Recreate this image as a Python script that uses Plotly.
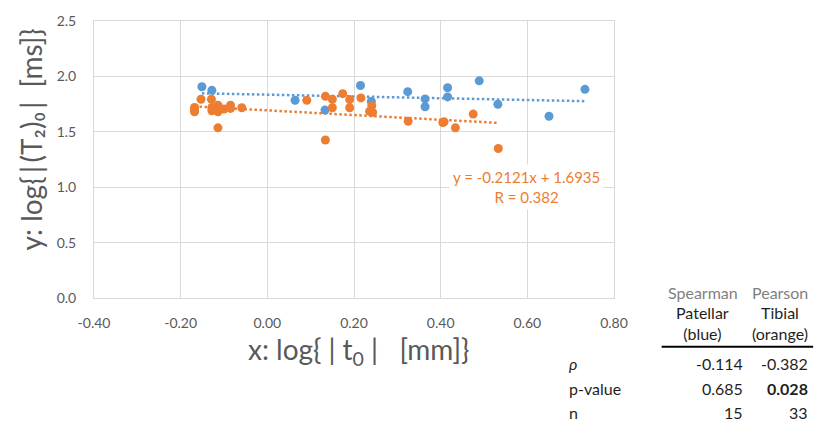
import plotly.graph_objects as go

# Patellar tendon measurements (blue)
patellar_x = [-0.151, -0.128, 0.064, 0.133, 0.215, 0.240, 0.324, 0.364, 0.364,
              0.416, 0.416, 0.489, 0.532, 0.650, 0.733]
patellar_y = [1.907, 1.874, 1.785, 1.696, 1.918, 1.773, 1.862, 1.797, 1.726,
              1.898, 1.815, 1.960, 1.749, 1.640, 1.883]

# Tibial measurements (orange)
tibial_x = [-0.153, -0.129, -0.168, -0.168, -0.128, -0.114, -0.114, -0.122, -0.085,
            -0.085, -0.059, -0.114, 0.091, 0.134, 0.150, 0.150, 0.174, 0.190,
            0.190, 0.216, 0.236, 0.241, 0.243, 0.134, 0.325, 0.405, 0.434,
            0.475, 0.533, -0.168, -0.128, -0.100, 0.408]
tibial_y = [1.794, 1.794, 1.720, 1.681, 1.690, 1.740, 1.681, 1.711, 1.740,
            1.711, 1.717, 1.536, 1.785, 1.820, 1.794, 1.717, 1.844, 1.791,
            1.717, 1.806, 1.684, 1.735, 1.675, 1.426, 1.595, 1.584, 1.536,
            1.660, 1.349, 1.700, 1.720, 1.705, 1.590]

# Linear trend lines (slope, intercept)
patellar_fit = (-0.080, 1.835)
tibial_fit = (-0.2121, 1.6935)
tibial_r = 0.382

# Axis ticks
x_tick_vals = [-0.4, -0.2, 0.0, 0.2, 0.4, 0.6, 0.8]
x_tick_text = ["-0.40", "-0.20", "0.00", "0.20", "0.40", "0.60", "0.80"]
y_tick_vals = [0.0, 0.5, 1.0, 1.5, 2.0, 2.5]
y_tick_text = ["0.0", "0.5", "1.0", "1.5", "2.0", "2.5"]

# Correlation summary table
table_methods = ["Spearman", "Pearson"]
table_groups = ["Patellar<br>(blue)", "Tibial<br>(orange)"]
row_labels = ["<i>ρ</i>", "p-value", "n"]
rho_values = ["-0.114", "-0.382"]
p_values = ["0.685", "<b>0.028</b>"]
n_values = ["15", "33"]

BLUE = "#5B9BD5"
ORANGE = "#ED7D31"
GRID = "#D9D9D9"
TICK = "#595959"
FONT = "Lato"
SP = "\u2005"   # narrow space around the absolute-value bars
TSP = "\u2009"  # thin space


def trend(fit, xs):
    lo, hi = min(xs), max(xs)
    return [lo, hi], [fit[0] * lo + fit[1], fit[0] * hi + fit[1]]


fig = go.Figure()

bx, by = trend(patellar_fit, patellar_x)
tx, ty = trend(tibial_fit, tibial_x)

fig.add_trace(go.Scatter(x=bx, y=by, mode="lines",
                         line=dict(color=BLUE, width=2.5, dash="2.5px,2.5px"),
                         hoverinfo="skip"))
fig.add_trace(go.Scatter(x=tx, y=ty, mode="lines",
                         line=dict(color=ORANGE, width=2.5, dash="2.5px,2.5px"),
                         hoverinfo="skip"))
fig.add_trace(go.Scatter(x=patellar_x, y=patellar_y, mode="markers",
                         marker=dict(color=BLUE, size=9), name="Patellar"))
fig.add_trace(go.Scatter(x=tibial_x, y=tibial_y, mode="markers",
                         marker=dict(color=ORANGE, size=9), name="Tibial"))

# plot area in pixels
L, R, T, B = 93.6, 614.0, 17.3, 298.3
W, H = 824, 430
pw, ph = R - L, B - T


def px(x):
    return (x - L) / pw


def py(y):
    return (B - y) / ph


annotations = []

# trend-line equation label
annotations.append(dict(
    x=0.597, y=1.0, xref="x", yref="y",
    text=f"y = {tibial_fit[0]:.4f}x + {tibial_fit[1]:.4f}<br>R = {tibial_r:.3f}",
    showarrow=False, font=dict(family=FONT, size=15, color=ORANGE),
    bgcolor="white", borderpad=3, align="center"))

# axis titles
annotations.append(dict(
    x=px(31), y=py(137), xref="paper", yref="paper",
    text=f"y: log{{{TSP}|{TSP}(T\u2082)\u2080{TSP}|\u00a0\u00a0[ms]}}",
    textangle=-90, showarrow=False, xanchor="center", yanchor="middle",
    font=dict(family=FONT, size=28, color=TICK)))
annotations.append(dict(
    x=px(359), y=py(352), xref="paper", yref="paper",
    text=f"x: log{{{SP}|{SP}t<sub>0</sub>{SP}|\u00a0\u00a0\u00a0[mm]}}",
    showarrow=False, xanchor="center", yanchor="middle",
    font=dict(family=FONT, size=28, color=TICK)))

# summary table
col_centers = [703, 780]
col_rights = [745, 810]
for cx, m in zip(col_centers, table_methods):
    annotations.append(dict(x=px(cx), y=py(292.7), xref="paper", yref="paper",
                            text=m, showarrow=False, xanchor="center", yanchor="middle",
                            font=dict(family=FONT, size=16, color="#7F7F7F")))
for cx, g in zip(col_centers, table_groups):
    annotations.append(dict(x=px(cx), y=py(323.5), xref="paper", yref="paper",
                            text=g, showarrow=False, xanchor="center", yanchor="middle",
                            font=dict(family=FONT, size=16, color="#1F1F1F")))
row_y = [365, 390, 414]
rows = [rho_values, p_values, n_values]
for ry, label, vals in zip(row_y, row_labels, rows):
    annotations.append(dict(x=px(567), y=py(ry), xref="paper", yref="paper",
                            text=label, showarrow=False, xanchor="left", yanchor="middle",
                            font=dict(family=FONT, size=16, color="#1F1F1F")))
    for rx, v in zip(col_rights, vals):
        annotations.append(dict(x=px(rx), y=py(ry), xref="paper", yref="paper",
                                text=v, showarrow=False, xanchor="right", yanchor="middle",
                                font=dict(family=FONT, size=16, color="#1F1F1F")))

shapes = [dict(type="line", xref="paper", yref="paper",
               x0=px(661.7), x1=px(813.3), y0=py(347.7), y1=py(347.7),
               line=dict(color="black", width=2))]

fig.update_layout(
    width=W, height=H,
    margin=dict(l=L, r=W - R, t=T, b=H - B, pad=0),
    paper_bgcolor="white", plot_bgcolor="white",
    showlegend=False,
    annotations=annotations, shapes=shapes,
    font=dict(family=FONT, color=TICK),
    xaxis=dict(range=[-0.4, 0.8], tickvals=x_tick_vals, ticktext=x_tick_text,
               showgrid=True, gridcolor=GRID, gridwidth=1,
               showline=True, linecolor=GRID, linewidth=1, mirror=True,
               zeroline=False, ticks="", ticklabelstandoff=12,
               tickfont=dict(family=FONT, size=14, color=TICK)),
    yaxis=dict(range=[0, 2.5], tickvals=y_tick_vals, ticktext=y_tick_text,
               showgrid=True, gridcolor=GRID, gridwidth=1,
               showline=True, linecolor=GRID, linewidth=1, mirror=True,
               zeroline=False, ticks="", ticklabelstandoff=14,
               tickfont=dict(family=FONT, size=14, color=TICK)),
)

fig.write_html("out.html")
